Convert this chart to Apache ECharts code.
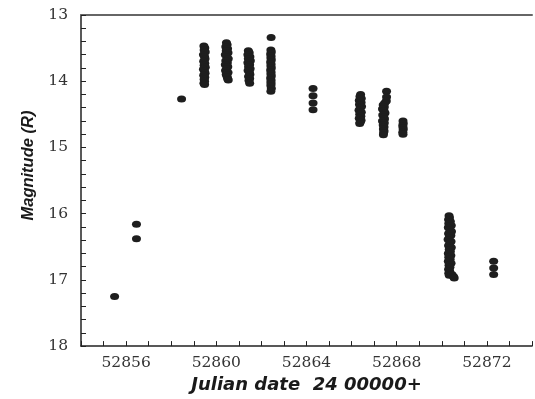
<!DOCTYPE html>
<html><head><meta charset="utf-8">
<script src="https://cdn.jsdelivr.net/npm/echarts@6/dist/echarts.min.js"></script>
<style>html,body{margin:0;padding:0;background:#fff}#c{width:535px;height:399px}</style>
</head><body><div id="c"></div>
<script>
// Axis settings
const xTickLabels = [52856, 52860, 52864, 52868, 52872];
const yTickLabels = [13, 14, 15, 16, 17, 18];

// Observations per night: Julian date (24 00000+) and R magnitude
const jdIsolated  = [52855.49, 52856.46, 52856.46, 52858.46];
const magIsolated = [17.25, 16.16, 16.38, 14.27];

const jdN1  = [52859.45,52859.49,52859.46,52859.51,52859.43,52859.48,52859.50,52859.44,52859.49,52859.46,52859.51,52859.43,52859.48,52859.50,52859.44,52859.49,52859.46,52859.48,52859.45,52859.48];
const magN1 = [13.47,13.50,13.53,13.56,13.60,13.63,13.66,13.70,13.73,13.76,13.79,13.82,13.85,13.88,13.91,13.94,13.97,14.00,14.03,14.05];

const jdN2  = [52860.45,52860.48,52860.42,52860.50,52860.44,52860.52,52860.40,52860.47,52860.53,52860.42,52860.49,52860.40,52860.51,52860.46,52860.41,52860.52,52860.44,52860.48,52860.50,52860.53];
const magN2 = [13.42,13.45,13.48,13.51,13.54,13.57,13.60,13.63,13.66,13.69,13.72,13.75,13.78,13.81,13.84,13.87,13.90,13.93,13.96,13.98];

const jdN3  = [52861.42,52861.46,52861.40,52861.49,52861.42,52861.51,52861.40,52861.48,52861.43,52861.50,52861.41,52861.47,52861.49,52861.43,52861.48,52861.45,52861.48];
const magN3 = [13.54,13.57,13.60,13.63,13.66,13.69,13.72,13.75,13.78,13.81,13.84,13.87,13.90,13.93,13.96,13.99,14.03];

const jdN4  = [52862.43,52862.42,52862.44,52862.41,52862.43,52862.42,52862.44,52862.41,52862.43,52862.42,52862.44,52862.41,52862.43,52862.42,52862.44,52862.41,52862.43,52862.42,52862.43,52862.42,52862.44,52862.42];
const magN4 = [13.34,13.53,13.56,13.59,13.62,13.65,13.68,13.71,13.74,13.77,13.80,13.83,13.86,13.89,13.92,13.95,13.98,14.01,14.04,14.07,14.11,14.15];

const jdN5  = [52864.29,52864.29,52864.29,52864.29];
const magN5 = [14.11,14.22,14.33,14.43];

const jdN6  = [52866.40,52866.37,52866.43,52866.34,52866.42,52866.35,52866.44,52866.38,52866.33,52866.43,52866.36,52866.41,52866.34,52866.42,52866.38,52866.36];
const magN6 = [14.20,14.23,14.26,14.29,14.32,14.35,14.38,14.41,14.44,14.47,14.50,14.53,14.56,14.59,14.62,14.64];

const jdN7  = [52867.55,52867.55,52867.54,52867.47,52867.40,52867.45,52867.37,52867.44,52867.48,52867.38,52867.43,52867.46,52867.37,52867.45,52867.40,52867.44,52867.41,52867.44,52867.42,52867.41];
const magN7 = [14.15,14.24,14.30,14.33,14.36,14.39,14.42,14.45,14.48,14.51,14.54,14.57,14.60,14.63,14.66,14.69,14.72,14.75,14.78,14.81];

const jdN8  = [52868.28,52868.29,52868.27,52868.28,52868.29,52868.27,52868.28];
const magN8 = [14.60,14.64,14.67,14.70,14.73,14.77,14.80];

const jdN9  = [52870.32,52870.34,52870.30,52870.38,52870.31,52870.42,52870.29,52870.36,52870.43,52870.30,52870.40,52870.33,52870.28,52870.41,52870.35,52870.30,52870.42,52870.33,52870.38,52870.29,52870.40,52870.31,52870.37,52870.29,52870.41,52870.32,52870.36,52870.30,52870.35,52870.31,52870.33,52870.45,52870.52,52870.55];
const magN9 = [16.03,16.06,16.09,16.12,16.15,16.18,16.21,16.24,16.27,16.30,16.33,16.36,16.39,16.42,16.45,16.48,16.51,16.54,16.57,16.60,16.63,16.66,16.69,16.72,16.75,16.78,16.81,16.84,16.87,16.90,16.93,16.92,16.95,16.97];

const jdN10  = [52872.30,52872.30,52872.30];
const magN10 = [16.72,16.82,16.92];

const nights = [
  [jdIsolated, magIsolated],[jdN1, magN1],[jdN2, magN2],[jdN3, magN3],[jdN4, magN4],
  [jdN5, magN5],[jdN6, magN6],[jdN7, magN7],[jdN8, magN8],[jdN9, magN9],[jdN10, magN10]
];
const points = [];
nights.forEach(([jd, mag]) => jd.forEach((v, i) => points.push([v, mag[i]])));

const labelFont = {fontFamily: 'DejaVu Serif', fontSize: 15.5, color: '#333'};

const chart = echarts.init(document.getElementById('c'), null, {renderer: 'canvas'});
chart.setOption({
  animation: false,
  backgroundColor: '#fff',
  grid: {left: 81, top: 15, width: 456, height: 332, show: false},
  xAxis: [{
    type: 'value', min: 52854, max: 52874, interval: 1,
    name: 'Julian date  24 00000+', nameLocation: 'middle', nameGap: 29,
    nameTextStyle: {fontFamily: 'DejaVu Sans', fontStyle: 'italic', fontWeight: 'bold', fontSize: 18, color: '#1a1a1a'},
    axisLine: {show: true, lineStyle: {color: '#222', width: 1.5}},
    axisTick: {show: true, inside: true, length: 5, lineStyle: {color: '#222', width: 1}},
    axisLabel: Object.assign({
      margin: 9,
      formatter: v => xTickLabels.includes(Math.round(v)) ? String(Math.round(v)) : ''
    }, labelFont),
    splitLine: {show: false}
  }, {
    type: 'value', position: 'top', min: 52854, max: 52874,
    axisLine: {show: true, lineStyle: {color: '#666', width: 2}},
    axisTick: {show: false}, axisLabel: {show: false}, splitLine: {show: false}
  }],
  yAxis: {
    type: 'value', min: 13, max: 18, interval: 1, inverse: true,
    name: 'Magnitude (R)', nameLocation: 'middle', nameGap: 44, nameRotate: 90,
    nameTextStyle: {fontFamily: 'Liberation Sans', fontStyle: 'italic', fontWeight: 'bold', fontSize: 16.5, color: '#1a1a1a', padding: [0, 0, 0, 30]},
    axisLine: {show: true, lineStyle: {color: '#222', width: 1.5}},
    axisTick: {show: true, inside: true, length: 5, lineStyle: {color: '#222', width: 1}},
    minorTick: {show: true, splitNumber: 5, length: 5, lineStyle: {color: '#222', width: 1}},
    axisLabel: Object.assign({
      margin: 13,
      formatter: v => yTickLabels.includes(Math.round(v)) ? String(Math.round(v)) : ''
    }, labelFont),
    splitLine: {show: false}
  },
  series: [{
    type: 'scatter', xAxisIndex: 0, data: points, symbol: 'circle', symbolSize: [9, 7],
    itemStyle: {color: '#1e1e1e', opacity: 1}
  }]
});
</script></body></html>
